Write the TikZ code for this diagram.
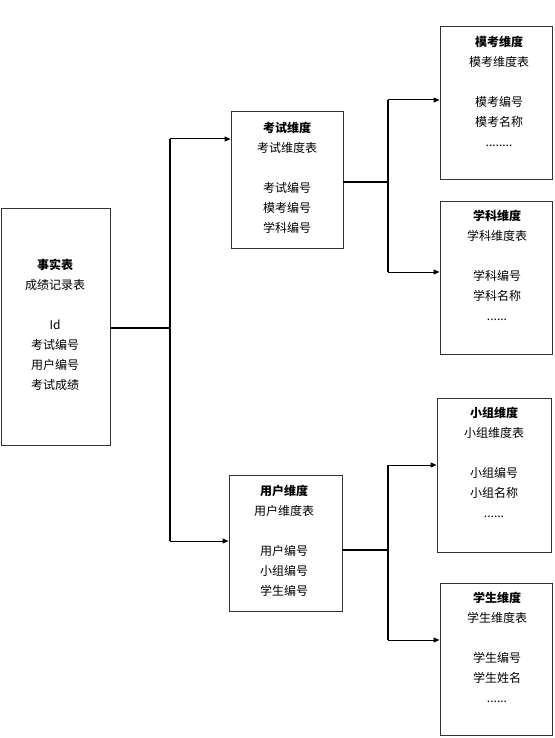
\documentclass[tikz,border=0pt]{standalone}
\usepackage{fontspec}
\setmainfont{Noto Sans CJK SC}
\usetikzlibrary{arrows.meta,calc}
\begin{document}
\begin{tikzpicture}[x=1pt,y=-1pt,
  box/.style={draw=black!80,line width=0.9pt,inner sep=0pt},
  txt/.style={align=center,inner sep=0pt,anchor=north,font=\fontsize{12}{20}\selectfont},
  feed/.style={line width=1pt,-{Triangle[length=6pt,width=5pt]}},
  trunk/.style={line width=2pt},
  spine/.style={line width=1.3pt}]
\useasboundingbox (0,0) rectangle (554,738);
\fill[white] (0,0) rectangle (554,738);
% boxes
\node[box,minimum width=109pt,minimum height=237pt] (fact) at (55.5,326.5) {};
\node[box,minimum width=112pt,minimum height=137pt] (exam) at (287,179.5) {};
\node[box,minimum width=113pt,minimum height=136pt] (user) at (285.5,543) {};
\node[box,minimum width=112pt,minimum height=153pt] (mock) at (496,102.5) {};
\node[box,minimum width=112pt,minimum height=153pt] (subj) at (496,277.5) {};
\node[box,minimum width=114pt,minimum height=154pt] (group) at (494,475) {};
\node[box,minimum width=112pt,minimum height=152pt] (stud) at (496,659) {};
% texts
\node[txt] (factT) at (55,258.5) {\textbf{事实表}\\成绩记录表\\[20pt]Id\\考试编号\\用户编号\\考试成绩};
\node[txt] (examT) at (287,121.5) {\textbf{考试维度}\\考试维度表\\[20pt]考试编号\\模考编号\\学科编号};
\node[txt] (userT) at (284,484.5) {\textbf{用户维度}\\用户维度表\\[20pt]用户编号\\小组编号\\学生编号};
\node[txt] (mockT) at (499,35.5) {\textbf{模考维度}\\模考维度表\\[20pt]模考编号\\模考名称\\........};
\node[txt] (subjT) at (497,209.5) {\textbf{学科维度}\\学科维度表\\[20pt]学科编号\\学科名称\\......};
\node[txt] (groupT) at (494,406.5) {\textbf{小组维度}\\小组维度表\\[20pt]小组编号\\小组名称\\......};
\node[txt] (studT) at (497,591.5) {\textbf{学生维度}\\学生维度表\\[20pt]学生编号\\学生姓名\\......};
% junctions
\coordinate (j1) at (170,328);
\coordinate (j1t) at (170,139);
\coordinate (j1b) at (170,541);
\coordinate (j2) at (388,182);
\coordinate (j2t) at (388,100);
\coordinate (j2b) at (388,272);
\coordinate (j3) at (388,550);
\coordinate (j3t) at (388,465);
\coordinate (j3b) at (388,640);
% connectors
\draw[trunk] (fact.east |- j1) -- (j1);
\draw[spine] (j1t) -- (j1b);
\draw[feed] (j1t) -- (exam.west |- j1t);
\draw[feed] (j1b) -- (user.west |- j1b);
\draw[trunk] (exam.east |- j2) -- (j2);
\draw[spine] (j2t) -- (j2b);
\draw[feed] (j2t) -- (mock.west |- j2t);
\draw[feed] (j2b) -- (subj.west |- j2b);
\draw[trunk] (user.east |- j3) -- (j3);
\draw[spine] (j3t) -- (j3b);
\draw[feed] (j3t) -- (group.west |- j3t);
\draw[feed] (j3b) -- (stud.west |- j3b);
\end{tikzpicture}
\end{document}
